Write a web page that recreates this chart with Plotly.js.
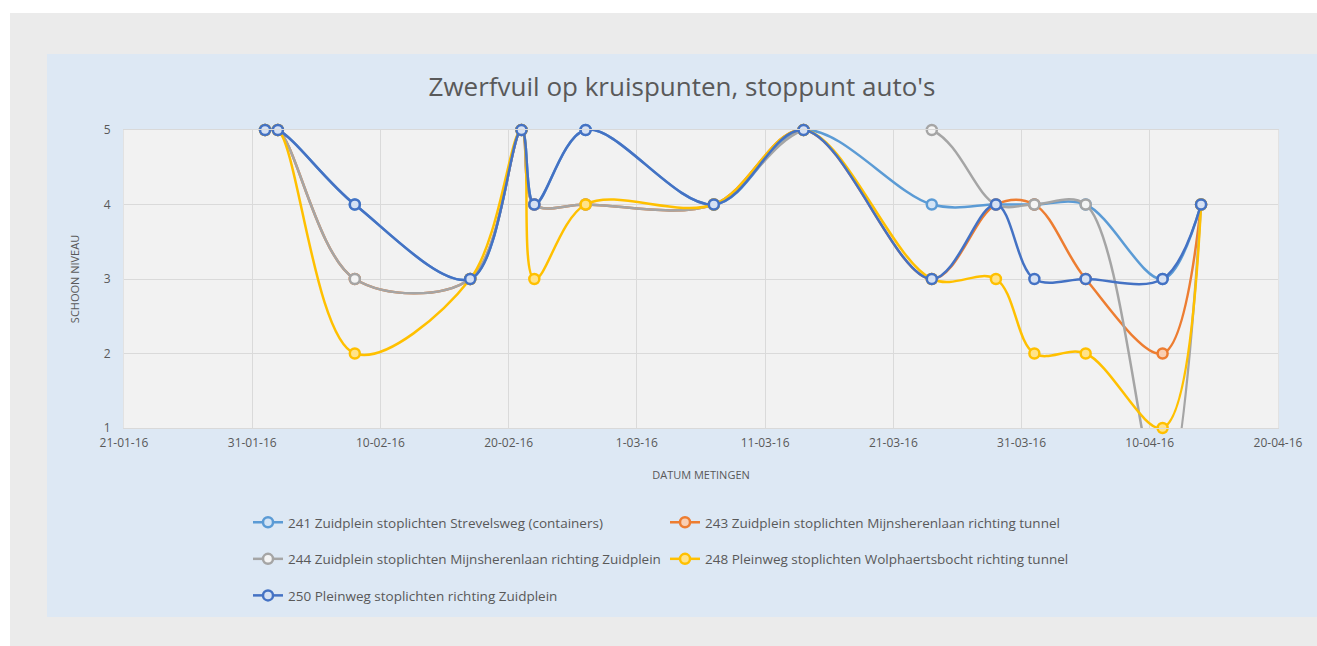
<!DOCTYPE html>
<html>
<head>
<meta charset="utf-8">
<script src="https://cdn.plot.ly/plotly-3.0.1.min.js"></script>
<style>
  html, body { margin:0; padding:0; width:1317px; height:646px; background:#ffffff; overflow:hidden; }
  #outer { position:absolute; left:10px; top:13px; width:1307px; height:633px; background:#ebebeb; }
  #blue { position:absolute; left:47px; top:54px; width:1270px; height:563px; background:#dde8f4; }
  #chart { position:absolute; left:47px; top:54px; width:1270px; height:592px; }
</style>
</head>
<body>
<div id="outer"></div>
<div id="blue"></div>
<div id="chart"></div>
<script>
// Measurement dates
const dates = ['2016-02-01','2016-02-02','2016-02-08','2016-02-17','2016-02-21','2016-02-22','2016-02-26',
               '2016-03-07','2016-03-14','2016-03-24','2016-03-29','2016-04-01','2016-04-05','2016-04-11','2016-04-14'];

// Series names
const names = [
  '241 Zuidplein stoplichten Strevelsweg (containers)',
  '243 Zuidplein stoplichten Mijnsherenlaan richting tunnel',
  '244 Zuidplein stoplichten Mijnsherenlaan richting Zuidplein',
  '248 Pleinweg stoplichten Wolphaertsbocht richting tunnel',
  '250 Pleinweg stoplichten richting Zuidplein'
];

// Series values (schoon niveau)
const s241 = [5,5,4,3,5,4,5,4,5,4,4,4,4,3,4];
const s243 = [5,5,3,3,5,4,4,4,5,3,4,4,3,2,4];
const s244 = [5,5,3,3,5,4,4,4,5,5,4,4,4,0,4];
const s248 = [5,5,2,3,5,3,4,4,5,3,3,2,2,1,4];
const s250 = [5,5,4,3,5,4,5,4,5,3,4,3,3,3,4];

const yTicks = [1,2,3,4,5];

const colors = ['#5b9bd5','#ed7d31','#a5a5a5','#ffc000','#4472c4'];
const fills  = ['#d3e4f5','#f9cfb3','#f4f4f4','#ffe38a','#d6e1f3'];
const series = [s241, s243, s244, s248, s250];
const legendOf = ['legend','legend2','legend','legend2','legend'];

const traces = series.map((vals, i) => ({
  type:'scatter', mode:'lines+markers',
  x: dates, y: vals, name: names[i],
  line:{color: colors[i], width: 2.5, shape:'spline', smoothing:1},
  marker:{symbol:'circle', size:10, color: fills[i], line:{color: colors[i], width:2.5}},
  cliponaxis:false,
  legend: legendOf[i],
  legendgroup: 'g'+i,
  hoverinfo:'x+y+name'
}));

const W = 1270, H = 592;
const ML = 77, MR = 39, MT = 76, MB = 218;
const PW = W - ML - MR, PH = H - MT - MB;
const fontFam = 'Open Sans, Noto Sans, sans-serif';

// legend positions (page px) converted to paper coordinates
const legTop = 507 - 54;
const legY = (H - MB - legTop) / PH;
const leg1X = (248 - 47 - ML) / PW;
const leg2X = (665 - 47 - ML) / PW;

const layout = {
  width: W, height: H,
  paper_bgcolor:'rgba(0,0,0,0)',
  plot_bgcolor:'#f2f2f2',
  margin:{l:ML, r:MR, t:MT, b:MB},
  title:{text:"Zwerfvuil op kruispunten, stoppunt auto's", xref:'container', x:0.5, xanchor:'center',
         yref:'container', y:1-33/H, yanchor:'middle',
         font:{family:fontFam, size:26, color:'#595959'}},
  xaxis:{
    type:'date', range:['2016-01-21','2016-04-20'], automargin:true,
    tick0:'2016-01-21', dtick: 10*86400000, tickformat:'%-d-%m-%y', tickangle:0,
    showgrid:true, gridcolor:'#dadada', gridwidth:1,
    showline:true, linecolor:'#d9d9d9', linewidth:1, mirror:true,
    zeroline:false,
    ticks:'outside', ticklen:4, tickcolor:'rgba(0,0,0,0)',
    tickfont:{family:fontFam, size:12, color:'#595959'},
    title:{text:'DATUM METINGEN', standoff:20, font:{family:fontFam, size:11, color:'#595959'}}
  },
  yaxis:{
    range:[1,5], tickvals: yTicks, ticktext: yTicks.map(String), automargin:true,
    showgrid:true, gridcolor:'#dadada', gridwidth:1,
    showline:true, linecolor:'#e2e2e2', linewidth:1, mirror:true,
    zeroline:false,
    ticks:'outside', ticklen:10, tickcolor:'rgba(0,0,0,0)',
    tickfont:{family:fontFam, size:12, color:'#595959'},
    title:{text:'SCHOON NIVEAU', standoff:21, font:{family:fontFam, size:11, color:'#595959'}}
  },
  legend:{
    x:leg1X, y:legY, xanchor:'left', yanchor:'top',
    orientation:'v', traceorder:'grouped', tracegroupgap:16,
    bgcolor:'rgba(0,0,0,0)', font:{family:fontFam, size:13.5, color:'#595959'}
  },
  legend2:{
    x:leg2X, y:legY, xanchor:'left', yanchor:'top',
    orientation:'v', traceorder:'grouped', tracegroupgap:16,
    bgcolor:'rgba(0,0,0,0)', font:{family:fontFam, size:13.5, color:'#595959'}
  },
  showlegend:true
};

Plotly.newPlot('chart', traces, layout, {displayModeBar:false, responsive:false});
</script>
</body>
</html>
